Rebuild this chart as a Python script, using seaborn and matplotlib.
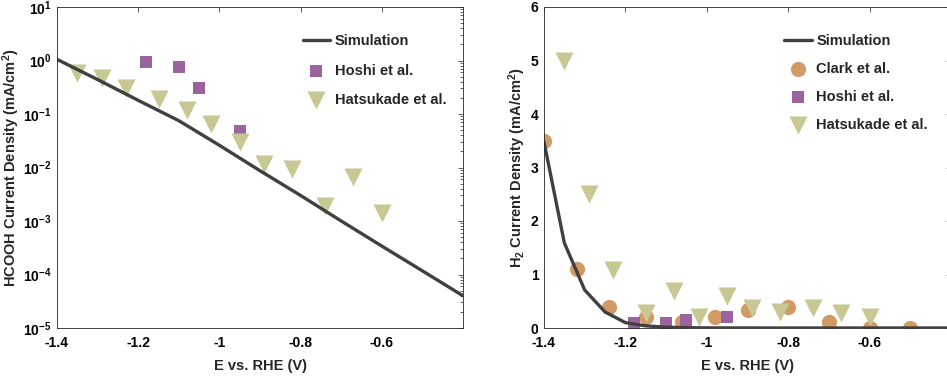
import matplotlib
matplotlib.use("Agg")
import matplotlib.pyplot as plt
import matplotlib.ticker as mticker
import seaborn as sns

# ---------------- data ----------------
# Left panel: HCOOH current density (log scale)
sim_E_left = [-1.4, -1.3, -1.2, -1.1, -1.0, -0.9, -0.8, -0.7, -0.6, -0.5, -0.4]
sim_j_hcooh = [1.05, 0.44, 0.18, 0.075, 0.026, 0.0087, 0.0030, 0.0010, 0.00034, 0.000117, 0.00004]

hoshi_E = [-1.18, -1.10, -1.05, -0.95]
hoshi_hcooh = [0.93, 0.74, 0.30, 0.049]

hats_E = [-1.35, -1.29, -1.23, -1.15, -1.08, -1.02, -0.95, -0.89, -0.82, -0.74, -0.67, -0.60]
hats_hcooh = [0.59, 0.48, 0.30, 0.19, 0.12, 0.065, 0.030, 0.0114, 0.0093, 0.0019, 0.0066, 0.0014]

# Right panel: H2 current density (linear scale)
sim_E_right = [-1.4, -1.35, -1.3, -1.25, -1.2, -1.15, -1.1, -1.05, -1.0, -0.9, -0.8, -0.7, -0.6, -0.5, -0.4]
sim_j_h2 = [3.48, 1.59, 0.71, 0.30, 0.10, 0.04, 0.015, 0.006, 0.002, 0.0005, 0.0001, 0.0, 0.0, 0.0, 0.0]

clark_E = [-1.40, -1.32, -1.24, -1.15, -1.06, -0.98, -0.90, -0.80, -0.70, -0.60, -0.50]
clark_h2 = [3.5, 1.10, 0.40, 0.20, 0.12, 0.20, 0.34, 0.40, 0.12, 0.0, 0.0]

hoshi_h2 = [0.10, 0.10, 0.15, 0.20]

hats_h2 = [5.0, 2.5, 1.08, 0.28, 0.70, 0.20, 0.60, 0.37, 0.29, 0.37, 0.28, 0.20]

x_ticks = [-1.4, -1.2, -1.0, -0.8, -0.6]
x_tick_labels = ["-1.4", "-1.2", "-1", "-0.8", "-0.6"]
log_exps = [-5, -4, -3, -2, -1, 0, 1]
lin_ticks = [0, 1, 2, 3, 4, 5, 6]

# ---------------- style ----------------
sns.set_theme(style="white")
FONT = "Liberation Sans"
plt.rcParams.update({
    "font.family": [FONT, "DejaVu Sans"],
    "font.weight": "bold",
    "axes.labelweight": "bold",
    "mathtext.fontset": "custom",
    "mathtext.rm": f"{FONT}:bold",
    "mathtext.bf": f"{FONT}:bold",
    "mathtext.it": f"{FONT}:bold",
    "mathtext.sf": f"{FONT}:bold",
    "mathtext.default": "bf",
    "axes.unicode_minus": False,
    "axes.edgecolor": "#262626",
    "axes.linewidth": 0.6,
    "xtick.direction": "in",
    "ytick.direction": "in",
    "xtick.top": True,
    "ytick.right": True,
    "xtick.major.size": 3.5,
    "ytick.major.size": 3.5,
    "xtick.minor.size": 2,
    "ytick.minor.size": 2,
    "xtick.major.width": 0.5,
    "ytick.major.width": 0.5,
    "xtick.minor.width": 0.5,
    "ytick.minor.width": 0.5,
    "xtick.color": "#262626",
    "ytick.color": "#262626",
    "xtick.labelcolor": "black",
    "ytick.labelcolor": "black",
    "xtick.major.pad": 6,
    "ytick.major.pad": 4,
})

LINE_C = "#404040"
SQ_C = "#9C649E"
TRI_C = "#C8C894"
CIRC_C = "#D29A64"

TICK_FS = 10
LABEL_FS = 10.5
LEG_FS = 10.5

fig = plt.figure(figsize=(9.47, 3.77), dpi=100)
axL = fig.add_axes([57 / 947, 49 / 377, 406 / 947, 321 / 377])
axR = fig.add_axes([544 / 947, 49 / 377, 407 / 947, 321 / 377])

# ---------------- left panel ----------------
sns.lineplot(x=sim_E_left, y=sim_j_hcooh, ax=axL, color=LINE_C, linewidth=2.4,
             label="Simulation", sort=False)
sns.scatterplot(x=hoshi_E, y=hoshi_hcooh, ax=axL, marker="s", s=80, color=SQ_C,
                linewidth=0, label="Hoshi et al.")
sns.scatterplot(x=hats_E, y=hats_hcooh, ax=axL, marker="v", s=170, color=TRI_C,
                linewidth=0, label="Hatsukade et al.")
axL.set_yscale("log")
axL.set_xlim(-1.4, -0.4)
axL.set_ylim(1e-5, 10)
axL.yaxis.set_major_locator(mticker.FixedLocator([10.0 ** e for e in log_exps]))
axL.yaxis.set_major_formatter(mticker.FixedFormatter([r"$10^{%d}$" % e for e in log_exps]))
axL.yaxis.set_minor_locator(mticker.LogLocator(base=10, subs=range(2, 10), numticks=20))
axL.yaxis.set_minor_formatter(mticker.NullFormatter())
axL.set_xticks(x_ticks)
axL.set_xticklabels(x_tick_labels)
axL.set_xlabel("E vs. RHE (V)", fontsize=LABEL_FS, fontweight="bold", labelpad=6)
axL.set_ylabel(r"HCOOH Current Density (mA/cm$^2$)", fontsize=LABEL_FS, fontweight="bold", labelpad=0.5)
axL.tick_params(axis="both", labelsize=TICK_FS)
legL = axL.legend(loc="upper left", bbox_to_anchor=(0.605, 0.915), frameon=False,
                  fontsize=LEG_FS, labelspacing=1.05, handlelength=1.9, handletextpad=0.3,
                  borderpad=0, borderaxespad=0)

# ---------------- right panel ----------------
sns.lineplot(x=sim_E_right, y=sim_j_h2, ax=axR, color=LINE_C, linewidth=2.4,
             label="Simulation", sort=False)
sns.scatterplot(x=clark_E, y=clark_h2, ax=axR, marker="o", s=120, color=CIRC_C,
                linewidth=0, label="Clark et al.")
sns.scatterplot(x=hoshi_E, y=hoshi_h2, ax=axR, marker="s", s=80, color=SQ_C,
                linewidth=0, label="Hoshi et al.")
sns.scatterplot(x=hats_E, y=hats_h2, ax=axR, marker="v", s=170, color=TRI_C,
                linewidth=0, label="Hatsukade et al.")
axR.set_xlim(-1.4, -0.4)
axR.set_ylim(0, 6)
axR.set_yticks(lin_ticks)
axR.set_yticklabels([str(t) for t in lin_ticks])
axR.set_xticks(x_ticks)
axR.set_xticklabels(x_tick_labels)
axR.set_xlabel("E vs. RHE (V)", fontsize=LABEL_FS, fontweight="bold", labelpad=6)
axR.set_ylabel(r"H$_2$ Current Density (mA/cm$^2$)", fontsize=LABEL_FS, fontweight="bold", labelpad=2)
axR.tick_params(axis="both", labelsize=TICK_FS)
legR = axR.legend(loc="upper left", bbox_to_anchor=(0.59, 0.915), frameon=False,
                  fontsize=LEG_FS, labelspacing=0.95, handlelength=1.9, handletextpad=0.3,
                  borderpad=0, borderaxespad=0)

for leg in (legL, legR):
    for t in leg.get_texts():
        t.set_fontweight("bold")

fig.savefig("out.png", dpi=100)
